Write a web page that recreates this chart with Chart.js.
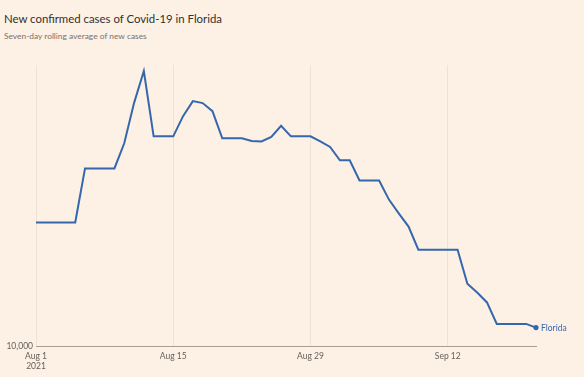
<!DOCTYPE html>
<html>
<head>
<meta charset="utf-8">
<script src="https://cdn.jsdelivr.net/npm/chart.js@4/dist/chart.umd.min.js"></script>
<style>
  html, body { margin: 0; padding: 0; background: #fdf0e5; }
  #wrap { position: relative; width: 584px; height: 377px; }
  #title { position: absolute; left: 4px; top: 12px; font: 11.4px Lato, sans-serif; color: #33302e; }
  #sub { position: absolute; left: 4px; top: 31px; font: 8.4px Lato, sans-serif; color: #7a726c; }
  canvas { position: absolute; left: 0; top: 0; }
</style>
</head>
<body>
<div id="wrap">
  <div id="title">New confirmed cases of Covid-19 in Florida</div>
  <div id="sub">Seven-day rolling average of new cases</div>
  <canvas id="chart" width="584" height="377"></canvas>
</div>
<script>
// daily categories, Aug 1 - Sep 21 2021
const days = [];
for (let d = new Date(2021, 7, 1); d <= new Date(2021, 8, 21); d.setDate(d.getDate() + 1)) {
  days.push(d.toLocaleDateString('en-GB', { day: 'numeric', month: 'short' }));
}

// seven-day average of new cases
const florida = [
  14140, 14140, 14140, 14140, 14140, 16460, 16460, 16460, 16460, 17660,
  19770, 21630, 18010, 18010, 18010, 19060, 19880, 19770, 19330, 17910,
  17910, 17910, 17780, 17750, 17980, 18550, 18010, 18010, 18010, 17760,
  17480, 16840, 16840, 15910, 15910, 15910, 15080, 14510, 13980, 13100,
  13100, 13100, 13100, 13100, 11910, 11620, 11300, 10640, 10640, 10640,
  10640, 10530
];

const tickDays = [0, 14, 28, 42];
const tickLabels = [['Aug 1', '2021'], 'Aug 15', 'Aug 29', 'Sep 12'];
const yTicks = [10000];

const lineColor = '#3567ad';

const endLabel = {
  id: 'endLabel',
  afterDatasetsDraw(chart) {
    const meta = chart.getDatasetMeta(0);
    const pt = meta.data[meta.data.length - 1];
    const ctx = chart.ctx;
    ctx.save();
    ctx.fillStyle = lineColor;
    ctx.font = '8.5px Lato, sans-serif';
    ctx.textBaseline = 'middle';
    ctx.fillText('Florida', pt.x + 5, pt.y + 0.5);
    ctx.restore();
  }
};

new Chart(document.getElementById('chart'), {
  type: 'line',
  data: {
    labels: days,
    datasets: [{
      label: 'Florida',
      data: florida,
      borderColor: lineColor,
      backgroundColor: lineColor,
      borderWidth: 2,
      tension: 0,
      pointRadius: ctx => ctx.dataIndex === florida.length - 1 ? 2.6 : 0,
      pointBorderWidth: 0
    }]
  },
  options: {
    responsive: false,
    animation: false,
    layout: { padding: { top: 65, right: 48, left: 0, bottom: 0 } },
    plugins: { legend: { display: false }, tooltip: { enabled: false } },
    scales: {
      x: {
        offset: false,
        afterBuildTicks: scale => { scale.ticks = scale.ticks.filter(t => tickDays.includes(t.value)); },
        afterFit: scale => { scale.height = 31; },
        grid: { color: '#f0e1d6', drawTicks: false },
        border: { display: true, color: '#a59d96', width: 1 },
        ticks: {
          autoSkip: false,
          maxRotation: 0,
          padding: 6,
          color: '#66605c',
          font: { family: 'Lato', size: 8.5, lineHeight: 1.1 },
          callback: (v) => tickLabels[tickDays.indexOf(v)]
        }
      },
      y: {
        type: 'logarithmic',
        min: 10000,
        max: 22000,
        afterBuildTicks: scale => { scale.ticks = yTicks.map(v => ({ value: v })); },
        afterFit: scale => { scale.width = 36; },
        grid: { display: false, drawTicks: false },
        border: { display: false },
        ticks: {
          padding: 3,
          color: '#66605c',
          font: { family: 'Lato', size: 8.5 },
          callback: v => v.toLocaleString('en-US')
        }
      }
    }
  },
  plugins: [endLabel]
});
</script>
</body>
</html>
